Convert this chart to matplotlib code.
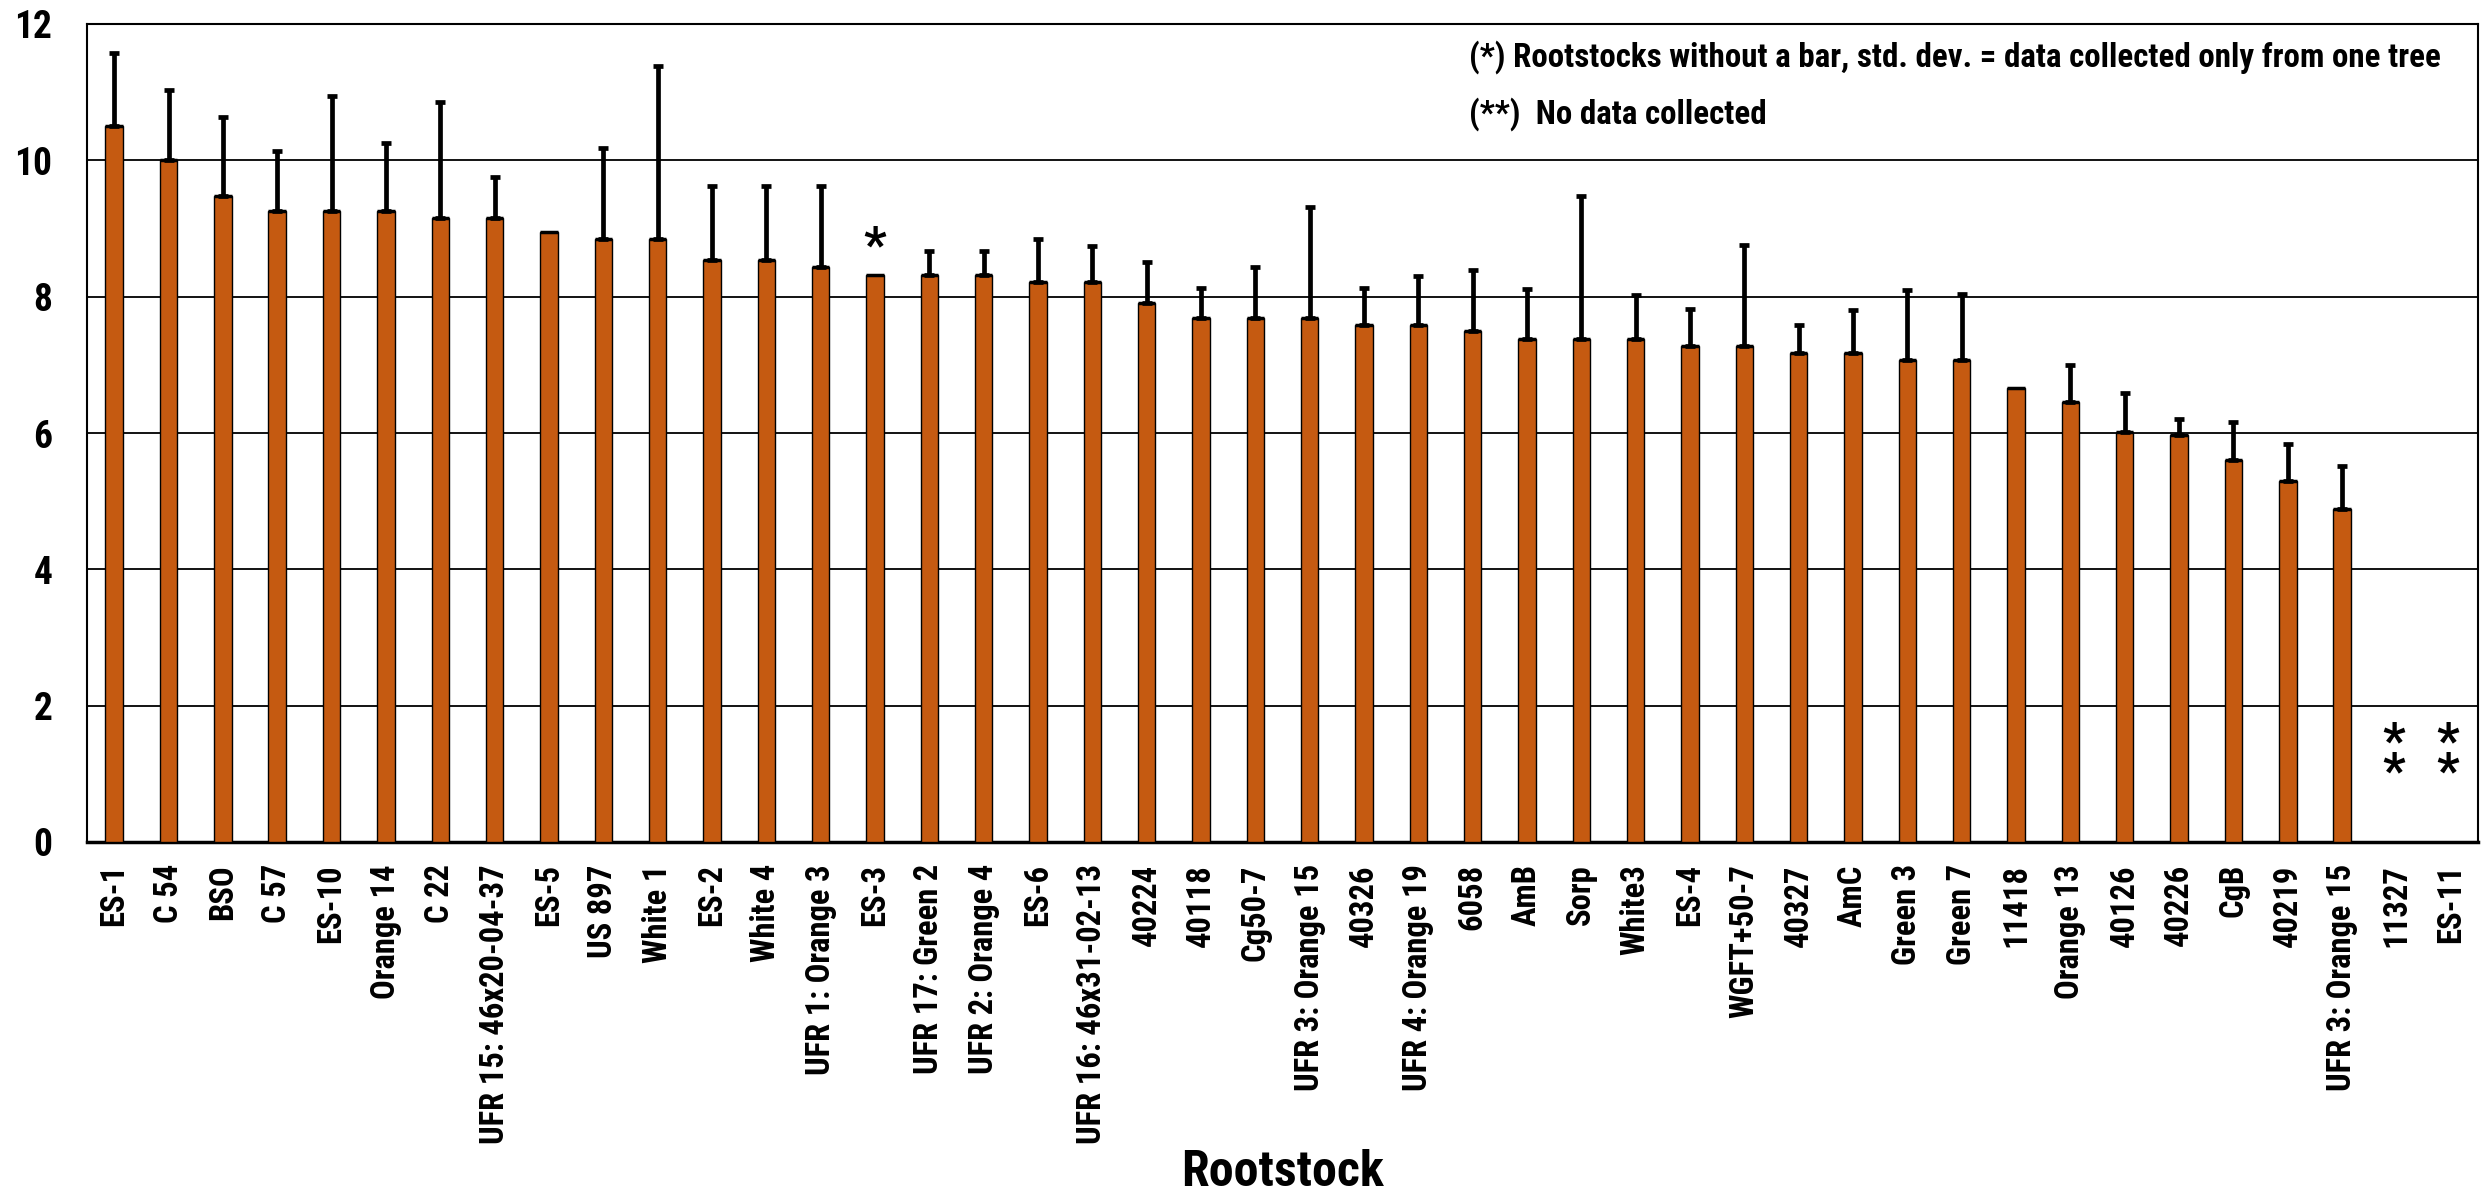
import numpy as np
import matplotlib
matplotlib.use("Agg")
import matplotlib.pyplot as plt
from matplotlib import font_manager

# ---------------- data ----------------
categories = ["ES-1", "C 54", "BSO", "C 57", "ES-10", "Orange 14", "C 22",
              "UFR 15: 46x20-04-37", "ES-5", "US 897", "White 1", "ES-2", "White 4",
              "UFR 1: Orange 3", "ES-3", "UFR 17: Green 2", "UFR 2: Orange 4", "ES-6",
              "UFR 16: 46x31-02-13", "40224", "40118", "Cg50-7", "UFR 3: Orange 15",
              "40326", "UFR 4: Orange 19", "6058", "AmB", "Sorp", "White3", "ES-4",
              "WGFT+50-7", "40327", "AmC", "Green 3", "Green 7", "11418", "Orange 13",
              "40126", "40226", "CgB", "40219", "UFR 3: Orange 15", "11327", "ES-11"]

values = [10.51, 10.00, 9.47, 9.26, 9.26, 9.26, 9.16, 9.16, 8.95, 8.84, 8.84,
          8.54, 8.54, 8.43, 8.32, 8.32, 8.32, 8.22, 8.22, 7.90, 7.69, 7.69, 7.69,
          7.59, 7.59, 7.49, 7.38, 7.38, 7.38, 7.28, 7.28, 7.17, 7.17, 7.07, 7.07,
          6.66, 6.45, 6.02, 5.97, 5.61, 5.30, 4.88, np.nan, np.nan]

std_dev = [1.06, 1.03, 1.16, 0.87, 1.69, 1.00, 1.70, 0.59, np.nan, 1.34, 2.54,
           1.09, 1.09, 1.20, np.nan, 0.35, 0.35, 0.63, 0.53, 0.61, 0.44, 0.74, 1.63,
           0.54, 0.72, 0.90, 0.73, 2.09, 0.64, 0.54, 1.48, 0.41, 0.64, 1.03, 0.97,
           np.nan, 0.55, 0.56, 0.24, 0.55, 0.54, 0.64, np.nan, np.nan]

single_tree = ["ES-3"]          # marked with *
no_data = ["11327", "ES-11"]    # marked with **

y_ticks = [0, 2, 4, 6, 8, 10, 12]
note_lines = ["(*) Rootstocks without a bar, std. dev. = data collected only from one tree",
              "(**)  No data collected"]
x_title = "Rootstock"

# ---------------- fonts ----------------
avail = {f.name for f in font_manager.fontManager.ttflist}
narrow = next((n for n in ["Liberation Sans Narrow", "Roboto Condensed", "Open Sans Condensed",
                           "Liberation Sans"] if n in avail), "DejaVu Sans")

BAR = "#C55A11"
BAR_W = 0.32
W, H, DPI = 2489, 1195, 100
fig = plt.figure(figsize=(W / DPI, H / DPI), dpi=DPI)
ax = fig.add_axes([87 / W, 1 - 842 / H, (2478 - 87) / W, (842 - 24) / H])

x = np.arange(len(categories))
vals = np.array(values, dtype=float)
errs = np.array(std_dev, dtype=float)

ax.set_axisbelow(True)
ax.yaxis.grid(True, color="black", linewidth=1.3)
ax.bar(x, np.nan_to_num(vals), width=BAR_W, color=BAR, edgecolor="black",
       linewidth=1.0, zorder=3)
has_val = ~np.isnan(vals)
ax.hlines(vals[has_val], x[has_val] - BAR_W / 2, x[has_val] + BAR_W / 2,
          colors="black", linewidth=2.5, zorder=4)
has_err = ~np.isnan(errs) & has_val
ax.errorbar(x[has_err], vals[has_err],
            yerr=[np.zeros(has_err.sum()), errs[has_err]],
            fmt="none", ecolor="black", elinewidth=3.4, capsize=3.6, capthick=3.4, zorder=5)

ax.set_xlim(-0.5, len(categories) - 0.5)
ax.set_ylim(0, 12)
ax.set_yticks(y_ticks)
ax.set_yticklabels([str(t) for t in y_ticks], family=narrow, fontweight="bold", fontsize=27)
ax.set_xticks(x)
ax.set_xticklabels(categories, rotation=90, family=narrow, fontweight="bold",
                   fontsize=23.5)
ax.tick_params(axis="x", length=0, pad=16)
ax.tick_params(axis="y", length=0, pad=25)
for s in ax.spines.values():
    s.set_color("black")
    s.set_linewidth(1.5)
ax.spines["bottom"].set_linewidth(2.5)

# markers
for name in single_tree:
    i = categories.index(name)
    ax.text(i, vals[i] + 0.40, "*", ha="center", va="center", fontsize=36,
            family=narrow, fontweight="bold")
for idx, name in enumerate(categories):
    if name in no_data:
        ax.text(idx - 0.05, 1.22, "*\n*", ha="center", va="center", fontsize=36,
                family=narrow, fontweight="bold", linespacing=0.52)

# note text in box (between 10 and 12 gridlines)
t1 = ax.text(0.578, 11.52, note_lines[0], transform=ax.get_yaxis_transform(),
             ha="left", va="center", fontsize=24, family=narrow, fontweight="bold")
t2 = ax.text(0.578, 10.68, note_lines[1], transform=ax.get_yaxis_transform(),
             ha="left", va="center", fontsize=24, family=narrow, fontweight="bold")
fig.canvas.draw()
target = 975.0
wid = t1.get_window_extent().width
fs = 24 * target / wid
t1.set_fontsize(fs)
t2.set_fontsize(fs)

fig.text((87 + 2478) / 2 / W, 1 - 1172 / H, x_title, ha="center", va="center",
         fontsize=36, family=narrow, fontweight="bold")

fig.savefig("out.png", dpi=DPI, facecolor="white")
